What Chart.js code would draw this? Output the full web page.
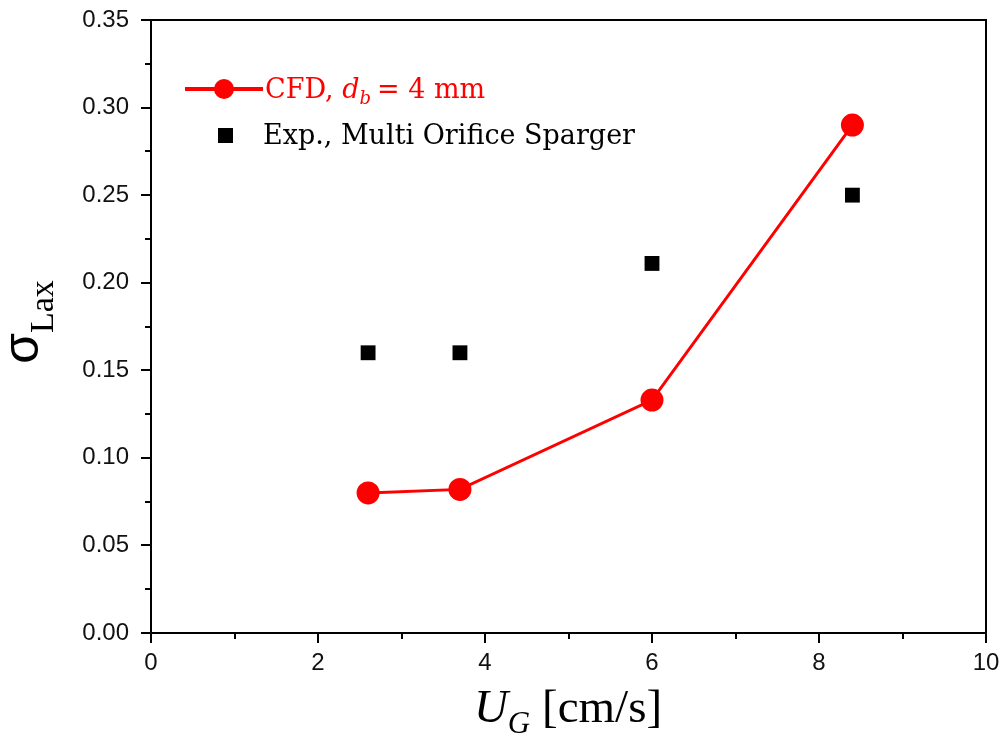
<!DOCTYPE html>
<html>
<head>
<meta charset="utf-8">
<script src="https://cdn.jsdelivr.net/npm/chart.js@4/dist/chart.umd.min.js"></script>
<style>
  html, body { margin: 0; padding: 0; background: #fff; }
  #wrap { width: 1005px; height: 736px; }
</style>
</head>
<body>
<div id="wrap"><canvas id="chart" width="1005" height="736"></canvas></div>
<script>
// superficial gas velocity [cm/s]
const ugCfd = [2.6, 3.7, 6.0, 8.4];
const sigmaCfd = [0.080, 0.082, 0.133, 0.290];
const ugExp = [2.6, 3.7, 6.0, 8.4];
const sigmaExp = [0.160, 0.160, 0.211, 0.250];

const RED = '#ff0000';
const SERIF = '"Liberation Serif", "DejaVu Serif", serif';
const LEG_SERIF = '"DejaVu Serif", serif';
const SANS = '"Liberation Sans", Arial, sans-serif';

// draws the box, minor ticks, inside legend and axis titles
const decorations = {
  id: 'decorations',
  afterDraw(chart) {
    const { ctx, chartArea: a, scales } = chart;
    ctx.save();

    // frame on top/right
    ctx.strokeStyle = '#000';
    ctx.lineWidth = 2;
    ctx.strokeRect(a.left, a.top, a.right - a.left, a.bottom - a.top);

    // minor ticks
    ctx.beginPath();
    for (let v = 1; v < 10; v += 2) {
      const px = Math.round(scales.x.getPixelForValue(v));
      ctx.moveTo(px, a.bottom);
      ctx.lineTo(px, a.bottom + 6);
    }
    for (let v = 0.025; v < 0.35; v += 0.05) {
      const py = Math.round(scales.y.getPixelForValue(v));
      ctx.moveTo(a.left, py);
      ctx.lineTo(a.left - 6, py);
    }
    ctx.stroke();

    // legend
    const cfd = chart.data.datasets[0];
    ctx.strokeStyle = cfd.borderColor;
    ctx.lineWidth = 4;
    ctx.beginPath();
    ctx.moveTo(185, 89);
    ctx.lineTo(263, 89);
    ctx.stroke();
    ctx.fillStyle = cfd.backgroundColor;
    ctx.beginPath();
    ctx.arc(224, 89, 10, 0, Math.PI * 2);
    ctx.fill();

    ctx.textBaseline = 'alphabetic';
    ctx.textAlign = 'left';
    ctx.fillStyle = RED;
    let x = 265;
    ctx.font = '27px ' + LEG_SERIF;
    ctx.fillText('CFD, ', x, 98);
    x += ctx.measureText('CFD, ').width;
    ctx.font = 'italic 27px ' + LEG_SERIF;
    ctx.fillText('d', x, 98);
    x += ctx.measureText('d').width;
    ctx.font = 'italic 18px ' + LEG_SERIF;
    ctx.fillText('b', x, 104);
    x += ctx.measureText('b').width + 6;
    ctx.font = '27px ' + LEG_SERIF;
    ctx.fillText('= 4 mm', x, 98);

    ctx.fillStyle = '#000';
    ctx.fillRect(218, 128, 15, 15);
    ctx.font = '27px ' + LEG_SERIF;
    ctx.fillText('Exp., Multi Orifice Sparger', 263, 144);

    // x title
    ctx.font = 'italic 47px ' + SERIF;
    const wU = ctx.measureText('U').width;
    ctx.font = 'italic 31px ' + SERIF;
    const wG = ctx.measureText('G').width;
    ctx.font = '47px ' + SERIF;
    const wRest = ctx.measureText(' [cm/s]').width;
    let tx = 568 - (wU + wG + wRest) / 2;
    ctx.font = 'italic 47px ' + SERIF;
    ctx.fillText('U', tx, 722);
    tx += wU;
    ctx.font = 'italic 31px ' + SERIF;
    ctx.fillText('G', tx, 733);
    tx += wG;
    ctx.font = '47px ' + SERIF;
    ctx.fillText(' [cm/s]', tx, 722);

    // y title
    ctx.translate(38, 322);
    ctx.rotate(-Math.PI / 2);
    ctx.font = '50px ' + SANS;
    const wS = ctx.measureText('σ').width;
    ctx.font = '34px ' + SERIF;
    const wL = ctx.measureText('Lax').width;
    let ty = -(wS + wL) / 2;
    ctx.font = '50px ' + SANS;
    ctx.fillText('σ', ty, 0);
    ty += wS;
    ctx.font = '34px ' + SERIF;
    ctx.fillText('Lax', ty, 15);

    ctx.restore();
  }
};

new Chart(document.getElementById('chart'), {
  type: 'scatter',
  data: {
    datasets: [
      {
        label: 'CFD, d_b = 4 mm',
        data: ugCfd.map((u, i) => ({ x: u, y: sigmaCfd[i] })),
        showLine: true,
        borderColor: RED,
        backgroundColor: RED,
        borderWidth: 3,
        pointRadius: 10,
        pointHoverRadius: 10,
        pointStyle: 'circle'
      },
      {
        label: 'Exp., Multi Orifice Sparger',
        data: ugExp.map((u, i) => ({ x: u, y: sigmaExp[i] })),
        showLine: false,
        borderColor: '#000',
        backgroundColor: '#000',
        borderWidth: 0,
        pointRadius: 10.5,
        pointHoverRadius: 10.5,
        pointStyle: 'rect'
      }
    ]
  },
  options: {
    responsive: false,
    animation: false,
    layout: { padding: { top: 20, right: 19, left: 0, bottom: 0 } },
    plugins: {
      legend: { display: false },
      tooltip: { enabled: false }
    },
    scales: {
      x: {
        type: 'linear',
        min: 0,
        max: 10,
        afterFit(scale) {
          scale.height = 103;
          scale.paddingLeft = 0;
          scale.paddingRight = 0;
        },
        ticks: {
          stepSize: 2,
          padding: 6,
          color: '#111',
          font: { family: SANS, size: 24 }
        },
        grid: {
          drawOnChartArea: false,
          drawTicks: true,
          tickLength: 10,
          color: '#000',
          lineWidth: 2
        },
        border: { display: true, color: '#000', width: 2 }
      },
      y: {
        type: 'linear',
        min: 0,
        max: 0.35,
        afterFit(scale) {
          scale.width = 151;
          scale.paddingTop = 0;
          scale.paddingBottom = 0;
        },
        ticks: {
          stepSize: 0.05,
          padding: 12,
          color: '#111',
          font: { family: SANS, size: 24 },
          callback: v => v.toFixed(2)
        },
        grid: {
          drawOnChartArea: false,
          drawTicks: true,
          tickLength: 10,
          color: '#000',
          lineWidth: 2
        },
        border: { display: true, color: '#000', width: 2 }
      }
    }
  },
  plugins: [decorations]
});
</script>
</body>
</html>
